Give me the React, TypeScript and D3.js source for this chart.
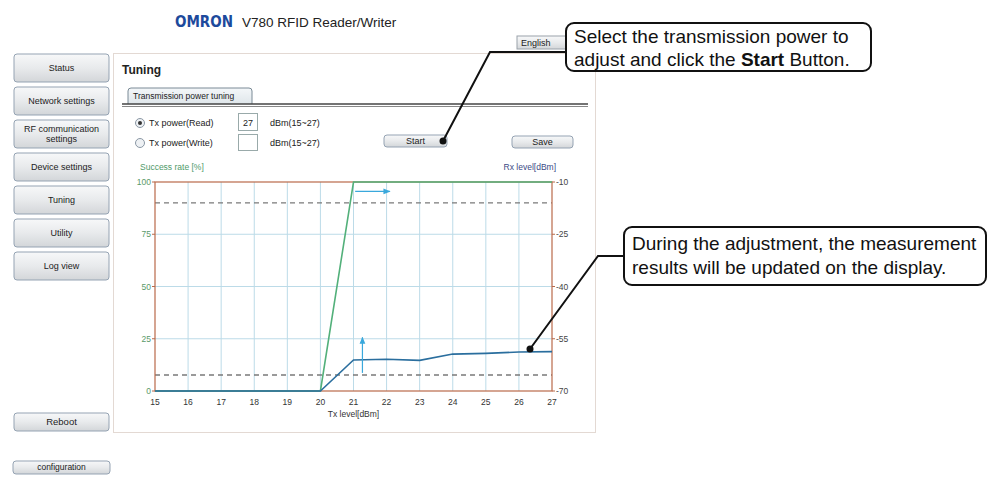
import * as d3 from "d3";

// chart data
const txLevels = [15, 16, 17, 18, 19, 20, 21, 22, 23, 24, 25, 26, 27];
const successRate = [0, 0, 0, 0, 0, 0, 100, 100, 100, 100, 100, 100, 100];
const rxLevel = [-70, -70, -70, -70, -70, -70, -61.1, -60.9, -61.2, -59.4, -59.2, -58.8, -58.7];
const successTicks = [0, 25, 50, 75, 100];
const rxTicks = [-70, -55, -40, -25, -10];
const successThreshold = 90;
const rxThreshold = -65.4;
// cyan arrows: [x1, y1, x2, y2] in data units
const hArrow = [21.05, 95.5, 22.1, 95.5]; // success-rate axis
const vArrow = [21.27, -64.8, 21.27, -54.6]; // rx axis

const navItems = [
  ["Status"],
  ["Network settings"],
  ["RF communication", "settings"],
  ["Device settings"],
  ["Tuning"],
  ["Utility"],
  ["Log view"],
];

const FONT = "'Liberation Sans', Arial, sans-serif";

function Button({ x, y, w, h, lines, size = 9 }: { x: number; y: number; w: number; h: number; lines: string[]; size?: number }) {
  const cy = y + h / 2;
  return (
    <g>
      <rect x={x} y={y} width={w} height={h} rx={3} fill="url(#btn)" stroke="#95a3b3" strokeWidth={1} />
      {lines.map((t, i) => (
        <text
          key={t}
          x={x + w / 2}
          y={cy + (i - (lines.length - 1) / 2) * 10.5 + size * 0.35}
          textAnchor="middle"
          fontSize={size}
          fill="#222"
        >
          {t}
        </text>
      ))}
    </g>
  );
}

export default function App() {
  const x = d3.scaleLinear().domain([15, 27]).range([155, 552]);
  const yS = d3.scaleLinear().domain([0, 100]).range([391, 182]);
  const yR = d3.scaleLinear().domain([-70, -10]).range([391, 182]);

  const successLine = d3
    .line<number>()
    .x((_, i) => x(txLevels[i]))
    .y((d) => yS(d))(successRate);
  const rxLine = d3
    .line<number>()
    .x((_, i) => x(txLevels[i]))
    .y((d) => yR(d))(rxLevel);

  const axisColor = "#b9694a";
  const gridColor = "#bcdbe8";

  return (
    <svg
      width={989}
      height={484}
      style={{ position: "absolute", left: 0, top: 0, background: "#fff" }}
      fontFamily={FONT}
    >
      <defs>
        <linearGradient id="btn" x1="0" y1="0" x2="0" y2="1">
          <stop offset="0" stopColor="#f7f8f9" />
          <stop offset="0.5" stopColor="#e8eaec" />
          <stop offset="1" stopColor="#d3d6d9" />
        </linearGradient>
        <linearGradient id="tab" x1="0" y1="0" x2="0" y2="1">
          <stop offset="0" stopColor="#f4f7f9" />
          <stop offset="1" stopColor="#dfe6ea" />
        </linearGradient>
        <marker id="arr" viewBox="0 0 10 10" refX="9" refY="5" markerWidth="6" markerHeight="6" orient="auto">
          <path d="M0,1 L10,5 L0,9 Z" fill="#3aa8dc" />
        </marker>
      </defs>

      {/* header */}
      <text
        x={175}
        y={27}
        fontSize={15}
        fontWeight={900}
        fill="#1d4a9c"
        fontFamily="'DejaVu Sans', sans-serif"
        textLength={58}
        lengthAdjust="spacingAndGlyphs"
      >
        OMRON
      </text>
      <text x={242} y={27} fontSize={13.5} fill="#222">
        V780 RFID Reader/Writer
      </text>
      <rect x={517} y={36} width={60} height={13} fill="url(#btn)" stroke="#9aa2aa" />
      <text x={521} y={46} fontSize={9} fill="#222">
        English
      </text>

      {/* nav */}
      {navItems.map((lines, i) => (
        <Button key={lines[0]} x={14} y={54 + i * 33} w={95} h={28} lines={lines} />
      ))}
      <Button x={14} y={413} w={95} h={18} lines={["Reboot"]} size={9.5} />
      <Button x={13} y={461} w={97} h={13} lines={["configuration"]} size={8.5} />

      {/* main panel */}
      <rect x={113.5} y={53.5} width={482} height={379} fill="#fff" stroke="#e3d9d3" />
      <text x={122} y={74} fontSize={12} fontWeight="bold" fill="#222">
        Tuning
      </text>
      <path d="M128,104 L128,91 Q128,88 131,88 L249,88 Q252,88 252,91 L252,104" fill="url(#tab)" stroke="#7a8a96" />
      <text x={133} y={99} fontSize={8.5} fill="#222">
        Transmission power tuning
      </text>
      <line x1={122} x2={588} y1={104} y2={104} stroke="#444" strokeWidth={1.3} />
      <line x1={122} x2={588} y1={106.5} y2={106.5} stroke="#888" strokeWidth={1} />

      {/* radios */}
      <circle cx={140} cy={123} r={4.5} fill="#eef1f4" stroke="#8a97a4" />
      <circle cx={140} cy={123} r={2} fill="#333" />
      <circle cx={140} cy={143} r={4.5} fill="#eef1f4" stroke="#8a97a4" />
      <text x={149} y={126} fontSize={9} fill="#222">
        Tx power(Read)
      </text>
      <text x={149} y={146} fontSize={9} fill="#222">
        Tx power(Write)
      </text>
      <rect x={238.5} y={113.5} width={19} height={17} fill="#fff" stroke="#9aa" />
      <text x={243} y={126} fontSize={9} fill="#222">
        27
      </text>
      <rect x={238.5} y={134.5} width={19} height={16} fill="#fff" stroke="#9aa" />
      <text x={270} y={126} fontSize={9} fill="#222">
        dBm(15~27)
      </text>
      <text x={270} y={146} fontSize={9} fill="#222">
        dBm(15~27)
      </text>
      <Button x={384} y={135} w={63} h={12} lines={["Start"]} size={9} />
      <Button x={512} y={136} w={61} h={12} lines={["Save"]} size={9} />

      {/* chart */}
      <text x={140} y={170} fontSize={8.5} fill="#4f9a6a">
        Success rate [%]
      </text>
      <text x={556} y={170} fontSize={8.5} fill="#3a4a86" textAnchor="end">
        Rx level[dBm]
      </text>

      {txLevels.slice(1, -1).map((t) => (
        <line key={t} x1={x(t)} x2={x(t)} y1={yS(100)} y2={yS(0)} stroke={gridColor} />
      ))}
      {successTicks.slice(1, -1).map((t) => (
        <line key={t} x1={x(15)} x2={x(27)} y1={yS(t)} y2={yS(t)} stroke={gridColor} />
      ))}

      <line x1={x(15)} x2={x(27)} y1={yS(successThreshold)} y2={yS(successThreshold)} stroke="#7a7a7a" strokeWidth={1.3} strokeDasharray="5,4" />
      <line x1={x(15)} x2={x(27)} y1={yR(rxThreshold)} y2={yR(rxThreshold)} stroke="#7a7a7a" strokeWidth={1.3} strokeDasharray="5,4" />

      {/* frame */}
      <rect x={x(15)} y={yS(100)} width={x(27) - x(15)} height={yS(0) - yS(100)} fill="none" stroke={axisColor} strokeWidth={1.2} />

      {/* left axis */}
      {successTicks.map((t) => (
        <g key={t}>
          <line x1={x(15) - 3} x2={x(15)} y1={yS(t)} y2={yS(t)} stroke={axisColor} />
          <text x={x(15) - 4} y={yS(t) + 3} fontSize={8.5} fill="#5a9a6a" textAnchor="end">
            {t}
          </text>
        </g>
      ))}
      {/* right axis */}
      {rxTicks.map((t) => (
        <g key={t}>
          <line x1={x(27)} x2={x(27) + 3} y1={yR(t)} y2={yR(t)} stroke={axisColor} />
          <text x={x(27) + 4} y={yR(t) + 3} fontSize={8.5} fill="#444">
            {t}
          </text>
        </g>
      ))}
      {/* bottom axis */}
      {txLevels.map((t) => (
        <text key={t} x={x(t)} y={yS(0) + 14} fontSize={8.5} fill="#333" textAnchor="middle">
          {t}
        </text>
      ))}
      <text x={x(21)} y={yS(0) + 26} fontSize={8.5} fill="#333" textAnchor="middle">
        Tx level[dBm]
      </text>

      <path d={successLine ?? ""} fill="none" stroke="#52b07a" strokeWidth={1.6} />
      <path d={rxLine ?? ""} fill="none" stroke="#2a6e9e" strokeWidth={1.6} />

      <line x1={x(hArrow[0])} y1={yS(hArrow[1])} x2={x(hArrow[2])} y2={yS(hArrow[3])} stroke="#3aa8dc" strokeWidth={1.2} markerEnd="url(#arr)" />
      <line x1={x(vArrow[0])} y1={yR(vArrow[1])} x2={x(vArrow[2])} y2={yR(vArrow[3])} stroke="#3aa8dc" strokeWidth={1.2} markerEnd="url(#arr)" />

      {/* callout 1 */}
      <polyline points="566,52 490,52 443,141" fill="none" stroke="#111" strokeWidth={2} />
      <circle cx={443} cy={141} r={3.5} fill="#111" />
      <rect x={566} y={23} width={305} height={48} rx={8} fill="#fff" stroke="#111" strokeWidth={2} />
      <text x={574} y={43} fontSize={19} fill="#111">
        Select the transmission power to
      </text>
      <text x={574} y={66} fontSize={19} fill="#111">
        adjust and click the <tspan fontWeight="bold">Start</tspan> Button.
      </text>

      {/* callout 2 */}
      <polyline points="624,256 598,256 530,349" fill="none" stroke="#111" strokeWidth={2} />
      <circle cx={530} cy={349} r={3.5} fill="#111" />
      <rect x={624} y={227} width={362} height={58} rx={8} fill="#fff" stroke="#111" strokeWidth={2} />
      <text x={632} y={250} fontSize={19} fill="#111">
        During the adjustment, the measurement
      </text>
      <text x={632} y={274} fontSize={19} fill="#111">
        results will be updated on the display.
      </text>
    </svg>
  );
}
